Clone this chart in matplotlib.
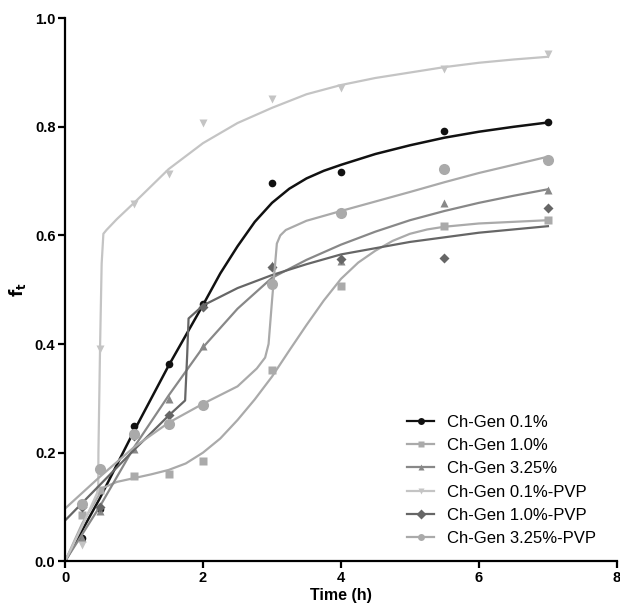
import matplotlib
matplotlib.use('Agg')
import matplotlib.pyplot as plt

plt.rcParams['font.family'] = ['Liberation Sans', 'DejaVu Sans']

# measured points
t = [0.25, 0.5, 1, 1.5, 2, 3, 4, 5.5, 7]
gen01 = [0.043, 0.097, 0.249, 0.363, 0.473, 0.697, 0.717, 0.792, 0.809]
gen10 = [0.085, 0.131, 0.157, 0.161, 0.185, 0.353, 0.507, 0.617, 0.628]
gen325 = [0.042, 0.093, 0.207, 0.298, 0.396, 0.545, 0.553, 0.659, 0.683]
gen01_pvp = [0.03, 0.39, 0.657, 0.714, 0.807, 0.851, 0.872, 0.906, 0.935]
gen10_pvp = [0.10, 0.10, 0.23, 0.269, 0.468, 0.542, 0.556, 0.559, 0.651]
gen325_pvp = [0.105, 0.17, 0.235, 0.252, 0.287, 0.51, 0.641, 0.723, 0.738]

# fitted curves
fit01_t = [0, 0.5, 1, 1.5, 2, 2.25, 2.5, 2.75, 3, 3.25, 3.5, 3.75, 4, 4.5, 5, 5.5, 6, 6.5, 7]
fit01_v = [0, 0.115, 0.24, 0.36, 0.472, 0.53, 0.58, 0.625, 0.66, 0.686, 0.705, 0.719, 0.73,
           0.75, 0.766, 0.78, 0.791, 0.80, 0.808]

fit10_t = [0, 0.25, 0.55, 0.75, 1, 1.25, 1.5, 1.75, 2, 2.25, 2.5, 2.75, 3, 3.25, 3.5, 3.75,
           4, 4.25, 4.5, 4.75, 5, 5.25, 5.5, 6, 7]
fit10_v = [0, 0.07, 0.135, 0.146, 0.153, 0.16, 0.168, 0.18, 0.20, 0.226, 0.26, 0.298, 0.34,
           0.388, 0.435, 0.48, 0.52, 0.55, 0.572, 0.59, 0.603, 0.611, 0.616, 0.622, 0.628]

fit325_t = [0, 0.5, 1, 1.5, 2, 2.5, 3, 3.5, 4, 4.5, 5, 5.5, 6, 6.5, 7]
fit325_v = [0, 0.10, 0.21, 0.305, 0.394, 0.465, 0.522, 0.555, 0.583, 0.607, 0.628, 0.645,
            0.66, 0.673, 0.685]

fit01p_t = [0, 0.25, 0.48, 0.483, 0.507, 0.53, 0.555, 0.6, 0.75, 1, 1.5, 2, 2.5, 3, 3.5, 4,
            4.5, 5, 5.5, 6, 6.5, 7]
fit01p_v = [0, 0.065, 0.13, 0.2, 0.395, 0.548, 0.603, 0.61, 0.63, 0.66, 0.722, 0.77, 0.807,
            0.835, 0.86, 0.877, 0.89, 0.90, 0.91, 0.918, 0.924, 0.929]

fit10p_t = [0, 0.5, 1, 1.5, 1.74, 1.77, 1.79, 2, 2.5, 3, 3.5, 4, 5, 6, 7]
fit10p_v = [0.075, 0.14, 0.205, 0.268, 0.296, 0.38, 0.447, 0.471, 0.503, 0.527, 0.547, 0.565,
            0.588, 0.605, 0.617]

fit325p_t = [0, 0.5, 1, 1.5, 2, 2.5, 2.78, 2.9, 2.95, 3.0, 3.07, 3.12, 3.2, 3.5, 4, 5, 5.5, 6, 7]
fit325p_v = [0.097, 0.155, 0.21, 0.255, 0.29, 0.322, 0.355, 0.375, 0.40, 0.48, 0.585, 0.60,
             0.61, 0.627, 0.645, 0.68, 0.698, 0.715, 0.745]

labels = ['Ch-Gen 0.1%', 'Ch-Gen 1.0%', 'Ch-Gen 3.25%',
          'Ch-Gen 0.1%-PVP', 'Ch-Gen 1.0%-PVP', 'Ch-Gen 3.25%-PVP']
points = [gen01, gen10, gen325, gen01_pvp, gen10_pvp, gen325_pvp]
fits = [(fit01_t, fit01_v), (fit10_t, fit10_v), (fit325_t, fit325_v),
        (fit01p_t, fit01p_v), (fit10p_t, fit10p_v), (fit325p_t, fit325p_v)]
colors = ['#111111', '#aaaaaa', '#888888', '#c4c4c4', '#666666', '#aaaaaa']
markers = ['o', 's', '^', 'v', 'D', 'o']
msizes = [5.5, 5.5, 5.5, 5.5, 5, 8]

fig = plt.figure(figsize=(6.2, 6.08), dpi=100)
ax = fig.add_axes([0.105, 0.077, 0.89, 0.893])

for lab, y, (ft, fv), c, m, ms in zip(labels, points, fits, colors, markers, msizes):
    ax.plot(ft, fv, color=c, lw=1.6 if c != '#111111' else 1.8, solid_joinstyle='round')
    ax.plot(t, y, ls='none', marker=m, ms=ms, color=c, mec='none')
    ax.plot([], [], color=c, lw=1.6, marker=m, ms=5, mec='none', label=lab)

ax.set_xlim(0, 8)
ax.set_ylim(0, 1.0)
ax.set_xticks([0, 2, 4, 6, 8])
ax.set_yticks([0.0, 0.2, 0.4, 0.6, 0.8, 1.0])
ax.set_yticklabels(['0.0', '0.2', '0.4', '0.6', '0.8', '1.0'])
for s in ['top', 'right']:
    ax.spines[s].set_visible(False)
for s in ['left', 'bottom']:
    ax.spines[s].set_linewidth(1.6)
ax.tick_params(width=1.6, length=5, labelsize=10.5, pad=2)
for lbl in ax.get_xticklabels() + ax.get_yticklabels():
    lbl.set_fontweight('bold')

ax.set_xlabel('Time (h)', fontsize=11.5, fontweight='bold', labelpad=2)
ax.set_ylabel(r'$\mathbf{f_t}$', fontsize=12, labelpad=5)

ax.legend(loc='lower right', bbox_to_anchor=(0.99, 0.0), frameon=False,
          fontsize=12, handlelength=1.6, handletextpad=0.8, labelspacing=0.5)

fig.savefig('out.png', dpi=100)
